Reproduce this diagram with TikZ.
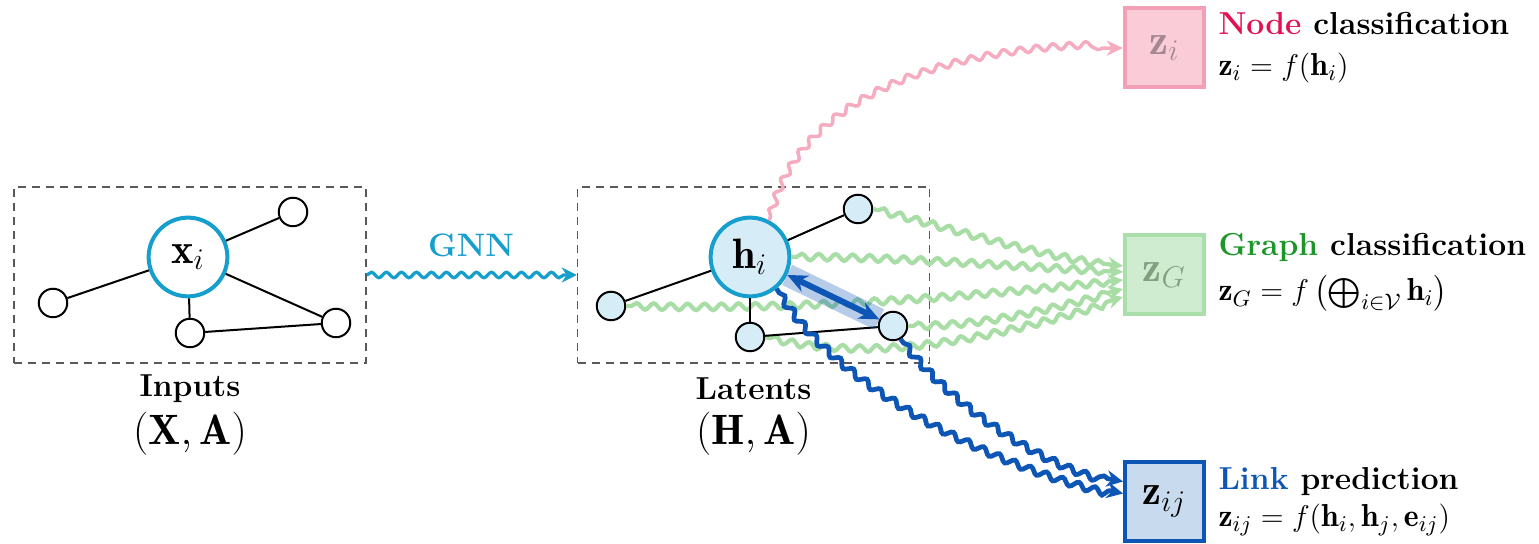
\documentclass[tikz,border=0pt]{standalone}
\usepackage{fontspec}
\usepackage{amsmath}
\usetikzlibrary{arrows.meta,decorations.pathmorphing,calc}
\definecolor{gnncyan}{RGB}{22,158,205}
\definecolor{latfill}{RGB}{214,236,246}
\definecolor{nodered}{RGB}{226,18,82}
\definecolor{pinkline}{RGB}{246,172,192}
\definecolor{pinkfill}{RGB}{249,204,216}
\definecolor{pinkdraw}{RGB}{243,160,183}
\definecolor{pinktext}{RGB}{165,135,145}
\definecolor{graphgreen}{RGB}{28,150,40}
\definecolor{greenline}{RGB}{168,222,166}
\definecolor{greenfill}{RGB}{208,236,208}
\definecolor{greendraw}{RGB}{170,222,170}
\definecolor{greentext}{RGB}{128,160,128}
\definecolor{linkblue}{RGB}{14,86,182}
\definecolor{linkfill}{RGB}{200,218,238}
\begin{document}
\begin{tikzpicture}[x=0.4pt,y=-0.4pt,
  bigc/.style={circle, draw=gnncyan, line width=1.6pt, minimum size=31.5pt, inner sep=0pt, font=\fontsize{17}{20}\selectfont},
  smallc/.style={circle, draw=black, line width=0.8pt, minimum size=11.4pt, inner sep=0pt},
  gedge/.style={draw=black, line width=0.8pt},
  dashbox/.style={draw=black!65, dash pattern=on 3.2pt off 2.4pt, line width=0.6pt, minimum width=140.8pt, minimum height=70.4pt, inner sep=0pt},
  outbox/.style={rectangle, line width=1.6pt, minimum size=31.6pt, inner sep=0pt, font=\fontsize{17}{20}\selectfont},
  lab/.style={anchor=base west, inner sep=0pt, font=\fontsize{12.7}{15}\selectfont},
  caption/.style={inner sep=0pt, font=\fontsize{12.7}{15}\selectfont\bfseries},
  bigmath/.style={inner sep=0pt, font=\fontsize{17}{20}\selectfont},
  gnnarrow/.style={draw=gnncyan, line width=1.3pt, -{Stealth[length=6pt,width=6pt]}, decorate, decoration={snake, amplitude=1.1pt, segment length=6pt, post length=4pt}},
  pinkarrow/.style={draw=pinkline, line width=1.4pt, -{Stealth[length=6.5pt,width=6pt]}, decorate, decoration={snake, amplitude=1.3pt, segment length=6.6pt, pre length=2pt, post length=6pt}},
  greenarrow/.style={draw=greenline, line width=1.7pt, -{Stealth[length=6pt,width=6pt]}, decorate, decoration={snake, amplitude=1.3pt, segment length=6.8pt, pre length=2pt, post length=5pt}},
  bluearrow/.style={draw=linkblue, line width=1.9pt, -{Stealth[length=6.5pt,width=6.5pt]}, decorate, decoration={snake, amplitude=1.3pt, segment length=6.8pt, pre length=2pt, post length=5pt}},
]
\useasboundingbox (0,0) rectangle (1539,544);

% dashed frames
\node[dashbox] (inbox) at (190,275) {};
\node[dashbox] (latbox) at (753.5,275) {};

% input graph
\node[bigc, fill=white] (xi) at (188,257) {$\mathbf{x}_i$};
\node[smallc, fill=white] (a1) at (293,212) {};
\node[smallc, fill=white] (a2) at (53,303) {};
\node[smallc, fill=white] (a3) at (190,333) {};
\node[smallc, fill=white] (a4) at (336,323) {};
\draw[gedge] (xi) -- (a1);
\draw[gedge] (xi) -- (a2);
\draw[gedge] (xi) -- (a3);
\draw[gedge] (xi) -- (a4);
\draw[gedge] (a3) -- (a4);

% latent graph
\node[bigc, fill=latfill] (hi) at (750,257) {$\mathbf{h}_i$};
\node[smallc, fill=latfill] (b1) at (858,209) {};
\node[smallc, fill=latfill] (b2) at (611,306) {};
\node[smallc, fill=latfill] (b3) at (750,337) {};
\node[smallc, fill=latfill] (b4) at (893,326) {};

% output boxes
\node[outbox, draw=pinkdraw, fill=pinkfill, text=pinktext] (zi) at (1164.5,48) {$\mathbf{z}_i$};
\node[outbox, draw=greendraw, fill=greenfill, text=greentext] (zG) at (1164.5,275) {$\mathbf{z}_G$};
\node[outbox, draw=linkblue, fill=linkfill] (zij) at (1164.5,501.5) {$\mathbf{z}_{ij}$};

% green readout connectors
\draw[greenarrow] (b1.east) .. controls +(80,20) and +(-80,-8) .. ($(zG.west)+(0,-9)$);
\draw[greenarrow] (hi.east) .. controls +(120,0) and +(-100,-4) .. ($(zG.west)+(0,-3)$);
\draw[greenarrow] (b2.east) .. controls +(200,5) and +(-120,12) .. ($(zG.west)+(0,5)$);
\draw[greenarrow] (b4.east) .. controls +(80,0) and +(-70,18) .. ($(zG.west)+(0,14)$);
\draw[greenarrow] (b3.east) .. controls +(120,30) and +(-100,30) .. ($(zG.west)+(0,22)$);

% latent graph edges
\draw[gedge] (hi) -- (b1);
\draw[gedge] (hi) -- (b2);
\draw[gedge] (hi) -- (b3);
\draw[gedge] (b3) -- (b4);

% link highlight
\draw[line width=9pt, linkblue, opacity=0.3] (hi) -- (b4);
\draw[line width=2.4pt, linkblue, {Stealth[length=8pt,width=7pt]}-{Stealth[length=8pt,width=7pt]}] (hi) -- (b4);

% node readout
\draw[pinkarrow] (hi.62) .. controls +(25,-110) and +(-200,0) .. (zi.west);

% link readout
\draw[bluearrow] (hi.-50) .. controls +(60,100) and +(-120,-24) .. ($(zij.west)+(0,-8)$);
\draw[bluearrow] (b4.-60) .. controls +(45,60) and +(-80,-12) .. ($(zij.west)+(0,-20)$);

% GNN
\draw[gnnarrow] (inbox.east) -- (latbox.west);
\node[inner sep=0pt, font=\fontsize{13}{15}\selectfont\bfseries, text=gnncyan] (gnnlab) at (471,245) {GNN};

% captions
\node[caption] (incap) at ($(inbox.south)+(0,25)$) {Inputs};
\node[bigmath] (inmath) at ($(inbox.south)+(0,70)$) {$(\mathbf{X},\mathbf{A})$};
\node[caption] (latcap) at ($(latbox.south)+(0,25)$) {Latents};
\node[bigmath] (latmath) at ($(latbox.south)+(0,70)$) {$(\mathbf{H},\mathbf{A})$};

% task labels
\node[lab] (n1) at (1218,35) {\textbf{\textcolor{nodered}{Node} classification}};
\node[lab] (n2) at (1218,76) {$\mathbf{z}_i = f(\mathbf{h}_i)$};
\node[lab] (g1) at (1218,256) {\textbf{\textcolor{graphgreen}{Graph} classification}};
\node[lab] (g2) at (1218,301) {$\mathbf{z}_G = f\left(\textstyle\bigoplus_{i\in\mathcal{V}}\mathbf{h}_i\right)$};
\node[lab] (l1) at (1218,490) {\textbf{\textcolor{linkblue}{Link} prediction}};
\node[lab] (l2) at (1218,527) {$\mathbf{z}_{ij} = f(\mathbf{h}_i,\mathbf{h}_j,\mathbf{e}_{ij})$};
\end{tikzpicture}
\end{document}
